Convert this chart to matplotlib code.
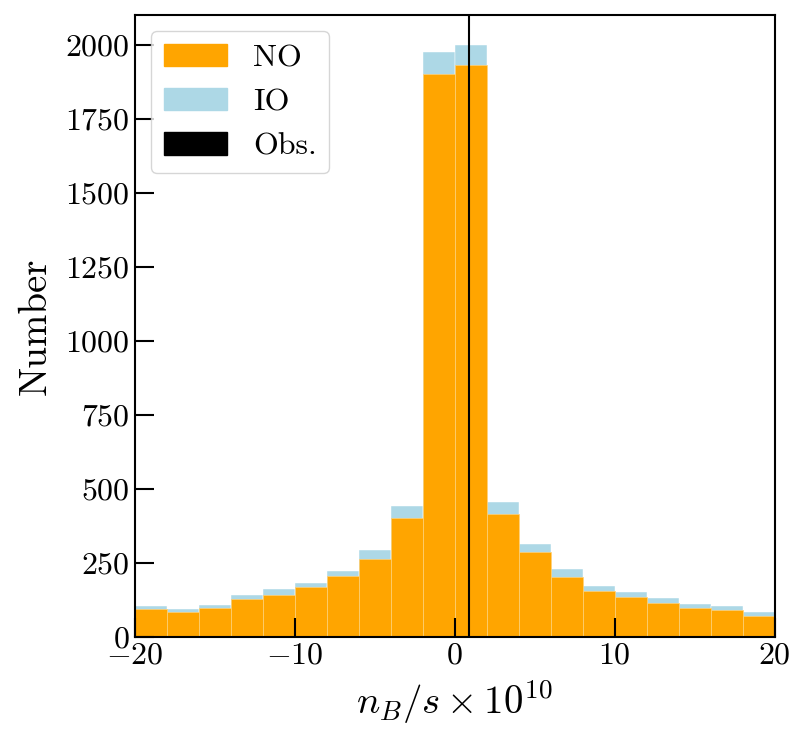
import numpy as np
import matplotlib
matplotlib.use("Agg")
import matplotlib.pyplot as plt
from matplotlib.patches import Patch

plt.rcParams['font.family'] = 'serif'
plt.rcParams['font.serif'] = ['cmr10']
plt.rcParams['mathtext.fontset'] = 'cm'
plt.rcParams['axes.formatter.use_mathtext'] = True

# bin edges of n_B/s x 1e10
edges = np.arange(-20, 21, 2)
# counts per bin
counts_no = [95, 83, 99, 129, 142, 170, 206, 263, 403, 1900,
             1930, 417, 288, 202, 155, 136, 115, 99, 91, 71]
counts_io = [104, 96, 109, 141, 162, 182, 223, 294, 442, 1976,
             2000, 455, 314, 229, 171, 151, 131, 110, 104, 84]
obs = 0.87

fig = plt.figure(figsize=(8.07, 7.46), dpi=100)
ax = fig.add_axes([0.167, 0.146, 0.793, 0.834])

ax.bar(edges[:-1], counts_io, width=np.diff(edges), align='edge',
       color='lightblue', edgecolor='white', linewidth=0.3)
ax.bar(edges[:-1], counts_no, width=np.diff(edges), align='edge',
       color='orange', edgecolor='#ffd27a', linewidth=0.5)
ax.axvline(obs, color='black', lw=1.5)

ax.set_xlim(-20, 20)
ax.set_ylim(0, 2100)
ax.set_xticks([-20, -10, 0, 10, 20])
ax.set_yticks(np.arange(0, 2001, 250))
ax.tick_params(direction='in', length=14, width=1.5, labelsize=23)
for s in ax.spines.values():
    s.set_linewidth(1.5)

ax.set_xlabel(r'$n_B/s \times 10^{10}$', fontsize=28, labelpad=6)
ax.set_ylabel('Number', fontsize=28, labelpad=8)

handles = [Patch(color='orange', label='NO'),
           Patch(color='lightblue', label='IO'),
           Patch(color='black', label='Obs.')]
ax.legend(handles=handles, loc='upper left', fontsize=23, handlelength=2.0)

fig.savefig('out.png', dpi=100)
